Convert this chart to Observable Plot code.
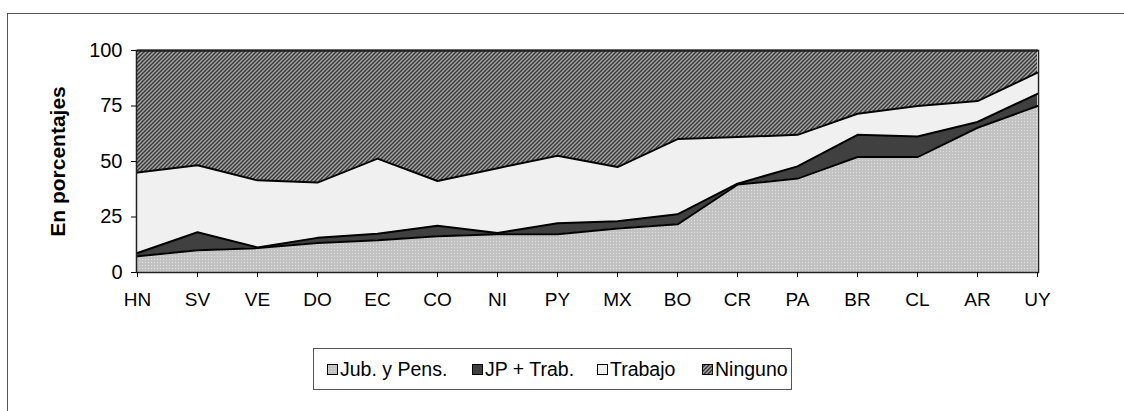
<!DOCTYPE html>
<html>
<head>
<meta charset="utf-8">
<script src="https://cdn.jsdelivr.net/npm/d3@7"></script>
<script src="https://cdn.jsdelivr.net/npm/@observablehq/plot@0.6"></script>
<style>
  html, body { margin: 0; padding: 0; background: #fff; width: 1124px; height: 411px; overflow: hidden; }
  body { position: relative; font-family: "Liberation Sans", Arial, sans-serif; color: #000; }
  #outer { position: absolute; left: 7px; top: 13px; width: 1117px; height: 398px; border-left: 1px solid #555; border-top: 1px solid #555; box-sizing: border-box; }
  #chart { position: absolute; left: 0; top: 0; }
  #legend { position: absolute; left: 313px; top: 348px; width: 479px; height: 42px; border: 1px solid #555; box-sizing: border-box; background: #fff; }
  .item { position: absolute; top: 0; height: 40px; display: flex; align-items: center; font-size: 19.5px; white-space: nowrap; }
  .item svg { margin-right: 2px; }
</style>
</head>
<body>
<svg width="0" height="0" style="position:absolute">
  <defs>
    <pattern id="pDots" width="3" height="3" patternUnits="userSpaceOnUse">
      <rect width="3" height="3" fill="#c2c2c2"></rect>
      <rect x="1" y="1" width="1" height="1" fill="#e2e2e2"></rect>
    </pattern>
    <pattern id="pHatch" width="4" height="4" patternUnits="userSpaceOnUse">
      <rect width="4" height="4" fill="#a8a8a8"></rect>
      <path d="M-1,1 l2,-2 M0,4 l4,-4 M3,5 l2,-2" stroke="#383838" stroke-width="1.5"></path>
    </pattern>
  </defs>
</svg>
<div id="outer"></div>
<div id="chart"></div>
<div id="legend"></div>
<script>
// ---- data ----
const paises = ["HN","SV","VE","DO","EC","CO","NI","PY","MX","BO","CR","PA","BR","CL","AR","UY"];
const series = ["Jub. y Pens.", "JP + Trab.", "Trabajo", "Ninguno"];
const jubPens = [7.3, 10.0, 11.0, 13.3, 14.5, 16.3, 17.2, 17.2, 19.8, 21.7, 39.6, 42.3, 52.0, 52.0, 65.2, 75.0];
const jpTrab  = [1.5, 8.1, 0.3, 2.3, 3.0, 4.8, 0.6, 5.0, 3.3, 4.5, 0.4, 5.5, 10.0, 9.3, 2.6, 5.5];
const trabajo = [36.2, 30.2, 30.2, 24.9, 33.8, 20.1, 29.2, 30.4, 24.4, 33.9, 21.0, 14.2, 9.5, 13.7, 9.4, 9.5];
const ninguno = [55.0, 51.7, 58.5, 59.5, 48.7, 58.8, 53.0, 47.4, 52.5, 39.9, 39.0, 38.0, 28.5, 25.0, 22.8, 10.0];
const yTicks = [0, 25, 50, 75, 100];
const fills = ["url(#pDots)", "#404040", "#f0f0f0", "url(#pHatch)"];

const valuesBySerie = [jubPens, jpTrab, trabajo, ninguno];
const table = [];
series.forEach((s, i) => paises.forEach((p, j) => table.push({serie: s, pais: p, valor: valuesBySerie[i][j]})));

const chart = Plot.plot({
  width: 1124,
  height: 330,
  marginTop: 50,
  marginBottom: 58,
  marginLeft: 136,
  marginRight: 86,
  style: {fontFamily: "Liberation Sans, Arial, sans-serif", color: "#000", background: "transparent"},
  x: {type: "point", domain: paises, padding: 0},
  y: {domain: [0, 100]},
  color: {domain: series, range: fills},
  marks: [
    Plot.areaY(table, Plot.stackY({x: "pais", y: "valor", z: "serie", fill: "serie"})),
    Plot.lineY(table, Plot.stackY2({x: "pais", y: "valor", z: "serie", stroke: "#000", strokeWidth: 2})),
    Plot.frame({stroke: "#222", strokeWidth: 1.5}),
    Plot.axisY({ticks: yTicks, tickSize: 5, tickPadding: 9, fontSize: 20, label: "En porcentajes", labelAnchor: "center", labelOffset: 86, labelArrow: "none"}),
    Plot.axisX({tickSize: 5, tickPadding: 15, fontSize: 19, label: null})
  ]
});
document.getElementById("chart").appendChild(chart);
chart.querySelectorAll("text").forEach(t => {
  if (t.textContent.trim() === "En porcentajes") {
    t.setAttribute("font-weight", "bold");
    t.setAttribute("font-size", "21");
    t.style.fontWeight = "bold";
    t.style.fontSize = "21px";
  }
});

// ---- legend ----
const legend = document.getElementById("legend");
const lefts = [13, 158, 283, 388];
series.forEach((s, i) => {
  const d = document.createElement("div");
  d.className = "item";
  d.style.left = lefts[i] + "px";
  d.innerHTML = `<svg width="11" height="11"><rect x="0.5" y="0.5" width="10" height="10" fill="${fills[i]}" stroke="#000"></rect></svg><span></span>`;
  d.querySelector("span").textContent = s;
  legend.appendChild(d);
});
</script>
</body>
</html>
